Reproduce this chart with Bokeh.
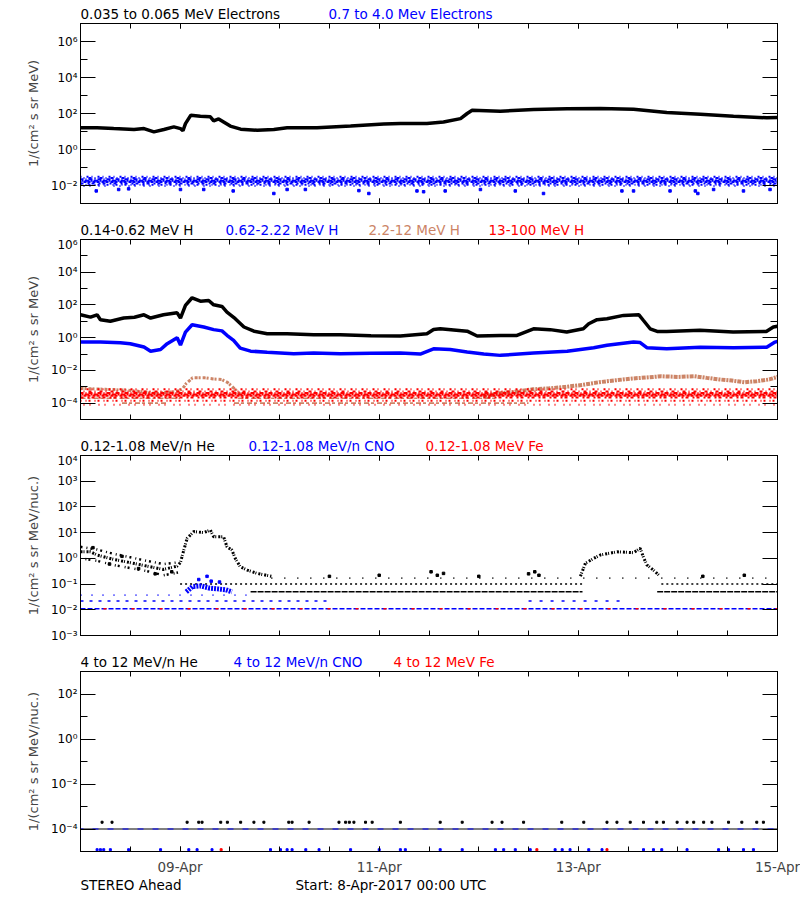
from bokeh.plotting import figure
from bokeh.layouts import column
from bokeh.models import (FixedTicker, CustomJSTickFormatter, LogAxis, LinearAxis,
                          Range1d)
from bokeh.core.properties import value
from bokeh.embed import file_html
from bokeh.resources import INLINE

# ------------------------------------------------------------------ data
# time axis: hours since 8-Apr-2017 00:00 UTC
X_START, X_END = 0, 168
X_TICKS = [24, 72, 120, 168]
X_TICK_LABELS = ["09-Apr", "11-Apr", "13-Apr", "15-Apr"]
X_MINOR = [0, 12, 24, 36, 48, 60, 72, 84, 96, 108, 120, 132, 144, 156, 168]

# panel 1 : electrons
P1_RANGE = (1e-3, 1e7)
P1_TICKS = [1e-2, 1e0, 1e2, 1e4, 1e6]
P1_LABELS = ["10⁻²", "10⁰", "10²", "10⁴", "10⁶"]
P1_MINOR = [1e-3, 1e-1, 1e1, 1e3, 1e5, 1e7]
E_LO_T = [0, 4, 8, 12.9, 15.3, 17.7, 20.1, 22.5, 24.1, 24.7, 25.3, 26.6, 28.9, 31.3,
          32.1, 33.3, 34.5, 36.1, 38.6, 42.6, 46.6, 49.8, 57.0, 65.1, 73.1, 77.1, 83.5,
          87.5, 91.6, 93.2, 94.4, 101.2, 109.2, 117.3, 125.3, 133.3, 141.3, 149.4,
          157.4, 165.4, 168]
E_LO_V = [16, 16, 14.5, 13, 14.5, 9.5, 13, 18, 14.5, 11, 27.5, 81, 71, 65, 39, 50, 34,
          20, 13.5, 11.7, 13, 16, 16, 20, 25.7, 27.5, 27.5, 34, 52, 100, 151, 135, 166,
          182, 190, 174, 115, 91, 71, 58, 60]
E_HI_LEVELS = [0.031, 0.026, 0.022, 0.0185, 0.0155, 0.013, 0.011, 0.0095]
E_HI_OUT_T = [3.8, 9.2, 11.6, 24.1, 29.7, 36.8, 46.6, 49.8, 54.2, 67.1, 69.5, 81.1, 82.7,
              87.9, 96.4, 104.8, 111.6, 130.5, 133.3, 142.1, 148.2, 148.8, 152.6, 159.8,
              166.2]
E_HI_OUT_V = [0.005, 0.006, 0.0065, 0.006, 0.006, 0.005, 0.0036, 0.006, 0.006, 0.0052,
              0.0036, 0.005, 0.0045, 0.005, 0.006, 0.005, 0.0036, 0.005, 0.005, 0.005,
              0.005, 0.0036, 0.006, 0.005, 0.006]

# panel 2 : protons
P2_RANGE = (1e-5, 1e6)
P2_TICKS = [1e-4, 1e-2, 1e0, 1e2, 1e4, 1e6]
P2_LABELS = ["10⁻⁴", "10⁻²", "10⁰", "10²", "10⁴", "10⁶"]
P2_MINOR = [1e-5, 1e-3, 1e-1, 1e1, 1e3, 1e5]
H1_T = [0, 2.4, 4, 4.8, 7.2, 10.4, 13, 15.3, 16.9, 20, 23.3, 24.1, 25.3, 26.9, 28.9,
        30.9, 32.1, 34.1, 35.3, 37.3, 39.4, 41.8, 45, 49.8, 56.2, 62.6, 70, 77.1, 83.5,
        85.1, 86.7, 93.2, 95.6, 101.2, 105.2, 107.2, 109.2, 113.2, 117.2, 121.2, 122.5,
        124.5, 126.9, 130.9, 134.6, 135.7, 137.3, 139.0, 141.3, 149.3, 157.3, 165.3,
        167.0, 168]
H1_V = [25, 18, 25, 12.6, 10.2, 15.8, 17.8, 25, 15.8, 25, 33, 15.8, 93, 275, 170, 186,
        102, 81, 36, 14.5, 4.5, 2.5, 1.74, 1.74, 1.5, 1.5, 1.32, 1.26, 1.74, 3.2, 3.5,
        2.5, 1.26, 1.38, 1.38, 2.2, 3.5, 3.1, 2.2, 3.5, 7.1, 12.6, 14.5, 23, 25, 11.2,
        3.5, 2.4, 2.4, 2.8, 2.2, 2.4, 4.5, 5.0]
H2_T = [0, 4.8, 9.6, 12, 15.3, 16.9, 19.3, 20.9, 23.3, 24.1, 25.3, 26.9, 29.7, 32.1,
        34.1, 35.3, 36.9, 38.5, 41, 45, 51.4, 56.2, 62.6, 70, 77.1, 81.9, 85.1, 89.1,
        93.2, 97.2, 101.2, 109.2, 117.3, 123.7, 126.9, 133.3, 134.9, 136.5, 141.3,
        149.4, 157.4, 165.4, 167.4, 168]
H2_V = [0.54, 0.54, 0.49, 0.43, 0.27, 0.15, 0.19, 0.43, 1.0, 0.35, 2.2, 6.2, 4.5, 3.1,
        2.6, 1.4, 0.69, 0.23, 0.15, 0.13, 0.105, 0.115, 0.105, 0.11, 0.115, 0.10, 0.21,
        0.19, 0.135, 0.10, 0.083, 0.115, 0.15, 0.245, 0.34, 0.54, 0.50, 0.245, 0.21,
        0.26, 0.24, 0.26, 0.54, 0.6]
H3A_T = [0, 6, 12, 18, 23, 24.5, 25.5, 27, 30, 32, 34, 35.5, 37, 38.5]
H3A_V = [8e-4, 7e-4, 6e-4, 4e-4, 5e-4, 7e-4, 1.6e-3, 3.5e-3, 3.5e-3, 3e-3, 2.8e-3,
         1.8e-3, 8e-4, 3.5e-4]
H3B_T = [97, 101, 105, 109, 113, 117, 121, 125, 129, 133, 137, 140, 144, 148, 151, 154,
         157, 160, 163, 166, 168]
H3B_V = [2.5e-4, 4e-4, 5e-4, 7e-4, 8e-4, 1e-3, 1.3e-3, 1.9e-3, 2.5e-3, 3.2e-3, 3.8e-3,
         4.4e-3, 4e-3, 4.4e-3, 3.5e-3, 2.8e-3, 2.4e-3, 1.9e-3, 2.2e-3, 2.8e-3, 4e-3]
H3_ROW_LEVEL = [2e-4, 2e-4, 1e-4, 1e-4]
H3_ROW_T0 = [0, 38, 10, 37]
H3_ROW_T1 = [24, 100, 21, 108]
H4_LEVELS = [7e-4, 5.2e-4, 4.2e-4, 3.4e-4, 2.8e-4, 2.2e-4, 1.4e-4, 8e-5]

# panel 3 : low-energy heavy ions
P3_RANGE = (1e-3, 1e4)
P3_TICKS = [1e-3, 1e-2, 1e-1, 1e0, 1e1, 1e2, 1e3, 1e4]
P3_LABELS = ["10⁻³", "10⁻²", "10⁻¹", "10⁰", "10¹", "10²", "10³", "10⁴"]
P3_MINOR = []
HE_T = [0, 2.4, 4, 8, 12, 16, 20, 23.3, 24.1, 24.9, 25.7, 27.3, 29.7, 31.3, 32.1, 34.5,
        35.3, 36.5, 37.3, 38.5, 40.2, 42.6, 44.2, 46]
HE_V = [1.8, 1.8, 1.35, 0.91, 0.68, 0.5, 0.37, 0.5, 0.7, 2.1, 6, 11, 10, 12.6, 6.9, 6.9,
        2.8, 2.1, 1.0, 0.47, 0.35, 0.26, 0.23, 0.2]
HE_UP_T = [0, 4, 8, 12, 16, 20, 23.5]
HE_UP_V = [2.8, 2.2, 1.5, 1.1, 0.8, 0.6, 0.7]
HE_LO_T = [0, 4, 8, 12, 16, 20, 23.5]
HE_LO_V = [1.0, 0.8, 0.55, 0.42, 0.32, 0.22, 0.28]
HE2_T = [120.5, 121.7, 123.7, 125.3, 129.3, 133.3, 134.9, 135.7, 136.5, 138.1, 139.7]
HE2_V = [0.2, 0.65, 1.0, 1.35, 1.8, 1.66, 2.45, 1.1, 0.56, 0.35, 0.2]
HE_ROW_LEVEL = [0.1, 0.1, 0.05, 0.05, 0.17]
HE_ROW_T0 = [24, 140, 41, 139, 46]
HE_ROW_T1 = [121, 168, 121, 168, 168]
HE_DOT_T = [3, 7, 10, 14, 18, 22, 84.5, 86, 87.5, 108, 109.5, 110.5, 60, 72, 96, 150, 160]
HE_DOT_V = [2.6, 0.6, 1.2, 0.4, 0.25, 0.3, 0.3, 0.22, 0.26, 0.25, 0.3, 0.22, 0.2, 0.22,
            0.2, 0.2, 0.22]
CNO_T = [25.5, 27, 29, 31, 33, 35, 36.5]
CNO_V = [0.05, 0.08, 0.085, 0.07, 0.065, 0.06, 0.05]
CNO_DOT_T = [28.5, 30.5, 31.5, 33.5]
CNO_DOT_V = [0.15, 0.2, 0.13, 0.12]
CNO_ROW_LEVEL = [0.011, 0.022, 0.022, 0.037]
CNO_ROW_T0 = [0, 0, 108, 0]
CNO_ROW_T1 = [168, 60, 130, 40]
FE_ROW_LEVEL = 0.011

# panel 4 : high-energy heavy ions
P4_RANGE = (1e-5, 1e3)
P4_TICKS = [1e-4, 1e-2, 1e0, 1e2]
P4_LABELS = ["10⁻⁴", "10⁻²", "10⁰", "10²"]
P4_MINOR = [1e-5, 1e-3, 1e-1, 1e1, 1e3]
HE4_ROW = 1e-4
HE4_DOT_T = [5.2, 7.6, 25.7, 28.5, 29.3, 33.8, 35.4, 38.6, 41.8, 44.2, 50.2, 51, 55.1,
             62.3, 63.9, 64.8, 65.9, 68.7, 70.3, 77.1, 86.7, 92, 99.2, 101.6, 106.8, 116,
             121.3, 126.9, 129.3, 132.5, 135.7, 138.9, 140.5, 143.8, 146.2, 147.8, 150.2,
             152.2, 156.2, 159.4, 163, 164.6]
HE4_DOT_V = 2e-4
CNO4_DOT_T = [4.0, 4.8, 5.6, 7.2, 11.6, 19.3, 26.1, 28.1, 31.7, 45.8, 48.2, 49.8, 51,
              54.3, 57.5, 65.1, 72, 77.1, 78.3, 86.7, 92, 100, 102, 104.8, 108.4, 114.4,
              116.1, 118, 122.5, 125.7, 135.7, 138.1, 140.1, 146.2, 153.8, 156.2, 159.8,
              162.2]
CNO4_DOT_V = 1.2e-5
FE4_DOT_T = [33.9, 110, 126.9]
FE4_DOT_V = 1.2e-5

# ------------------------------------------------------------------ style
FONT = "DejaVu Sans"
BLACK, BLUE, RED, TAN = "#000000", "#0000FF", "#FF0000", "#CC8466"
W = 800
FRAME_W, FRAME_H = 697, 180
LEFT = 80
RIGHT = W - LEFT - FRAME_W

TICK_JS = """
let best = -1, bd = 1e9;
for (let i = 0; i < tvals.length; i++) {
  const d = Math.abs(Math.log10(tvals[i]) - Math.log10(tick));
  if (d < bd) { bd = d; best = i; }
}
return bd < 0.01 ? tlabels[best] : "";
"""
XTICK_JS = """
for (let i = 0; i < tvals.length; i++) {
  if (Math.abs(tvals[i] - tick) < 1e-6) return tlabels[i];
}
return "";
"""


def strip(height, items, ymid):
    # text strip whose frame is aligned with the panels' frames (pixel coordinates)
    s = figure(frame_width=FRAME_W, frame_height=height, width=W, height=height,
               x_range=Range1d(LEFT, LEFT + FRAME_W), y_range=Range1d(height, 0),
               output_backend="svg", toolbar_location=None,
               min_border_left=LEFT, min_border_right=RIGHT,
               min_border_top=0, min_border_bottom=0,
               x_axis_location=None, y_axis_location=None)
    s.grid.visible = False
    s.outline_line_color = None
    for txt, col, x in items:
        s.text(x=[x], y=[ymid], text=[txt], text_color=col, text_font=value(FONT),
               text_font_size="13.5px", text_baseline="middle", text_align="left")
    return s


def make_panel(yrange, yticks, ylabels, yminor, ylabel, border_bottom, show_xlabels):
    top = 2
    p = figure(frame_width=FRAME_W, frame_height=FRAME_H,
               width=W, height=top + FRAME_H + border_bottom,
               x_range=Range1d(X_START, X_END), y_range=Range1d(*yrange),
               y_axis_type="log", output_backend="svg", toolbar_location=None,
               min_border_left=LEFT, min_border_right=RIGHT,
               min_border_top=top, min_border_bottom=border_bottom)
    p.grid.visible = False
    p.outline_line_color = BLACK
    p.outline_line_width = 1

    yt = FixedTicker(ticks=yticks, minor_ticks=yminor)
    xt = FixedTicker(ticks=X_TICKS, minor_ticks=X_MINOR)

    ya = p.yaxis[0]
    ya.ticker = yt
    ya.formatter = CustomJSTickFormatter(args=dict(tvals=yticks, tlabels=ylabels),
                                         code=TICK_JS)
    ya.major_label_text_font = FONT
    ya.major_label_text_font_size = "12px"
    ya.major_label_text_color = BLACK
    ya.major_label_standoff = 3
    ya.axis_label = ylabel
    ya.axis_label_text_font = FONT
    ya.axis_label_text_font_size = "13px"
    ya.axis_label_text_font_style = "normal"
    ya.axis_label_standoff = 7
    ya.major_tick_in, ya.major_tick_out = 15, 0
    ya.minor_tick_in, ya.minor_tick_out = 7, 0
    ya.axis_line_color = BLACK

    ra = LogAxis(ticker=yt, major_label_text_font_size="0px", major_label_standoff=0,
                 major_tick_in=15, major_tick_out=0, minor_tick_in=7, minor_tick_out=0,
                 axis_line_color=BLACK)
    ra.formatter = CustomJSTickFormatter(code="return '';")
    p.add_layout(ra, "right")

    xa = p.xaxis[0]
    xa.ticker = xt
    xa.major_tick_in, xa.major_tick_out = 5, 0
    xa.minor_tick_in, xa.minor_tick_out = 5, 0
    xa.axis_line_color = BLACK
    if show_xlabels:
        xa.formatter = CustomJSTickFormatter(
            args=dict(tvals=X_TICKS, tlabels=X_TICK_LABELS), code=XTICK_JS)
        xa.major_label_text_font = FONT
        xa.major_label_text_font_size = "13.5px"
        xa.major_label_standoff = 7
    else:
        xa.formatter = CustomJSTickFormatter(code="return '';")
        xa.major_label_text_font_size = "0px"
        xa.major_label_standoff = 0

    ta = LinearAxis(ticker=xt, major_label_text_font_size="0px", major_label_standoff=0,
                    major_tick_in=5, major_tick_out=0, minor_tick_in=5, minor_tick_out=0,
                    axis_line_color=BLACK)
    ta.formatter = CustomJSTickFormatter(code="return '';")
    p.add_layout(ta, "above")
    return p


def hrow(p, t0, t1, level, color, width, dash, offset=0):
    p.line([t0, t1], [level, level], line_color=color, line_width=width,
           line_dash=dash, line_dash_offset=offset)


UNIT1 = "1/(cm² s sr MeV)"
UNIT2 = "1/(cm² s sr MeV/nuc.)"
STRIP_H, TITLE_Y = 21, 13

# irregular dash patterns give the speckled look of the dense point clouds
SPECKLE = [("1 5 2 3", 0), ("3 3 1 4", 3), ("4 2 1 2", 1), ("5 1 2 1", 5),
           ("3 2 3 1", 2), ("2 2 3 4", 4), ("2 4 1 2", 1), ("1 8 1 5", 6)]

# ---------------- panel 1
s1 = strip(STRIP_H, [("0.035 to 0.065 MeV Electrons", BLACK, 80),
                     ("0.7 to 4.0 Mev Electrons", BLUE, 328)], TITLE_Y)
p1 = make_panel(P1_RANGE, P1_TICKS, P1_LABELS, P1_MINOR, UNIT1, 13, False)
p1.line(E_LO_T, E_LO_V, line_color=BLACK, line_width=3.5)
for lvl, (dash, off) in zip(E_HI_LEVELS, SPECKLE):
    hrow(p1, X_START, X_END, lvl, BLUE, 2, dash, off)
p1.scatter(E_HI_OUT_T, E_HI_OUT_V, marker="square", size=2.5, color=BLUE)

# ---------------- panel 2
s2 = strip(STRIP_H, [("0.14-0.62 MeV H", BLACK, 80), ("0.62-2.22 MeV H", BLUE, 225),
                     ("2.2-12 MeV H", TAN, 368), ("13-100 MeV H", RED, 488)], TITLE_Y)
p2 = make_panel(P2_RANGE, P2_TICKS, P2_LABELS, P2_MINOR, UNIT1, 13, False)
p2.line(H1_T, H1_V, line_color=BLACK, line_width=3.5)
p2.line(H2_T, H2_V, line_color=BLUE, line_width=3.5)
p2.line(H3A_T, H3A_V, line_color=TAN, line_width=3, line_dash="3 1 2 2")
p2.line(H3B_T, H3B_V, line_color=TAN, line_width=4, line_dash="4 1 2 1")
for lvl, t0, t1 in zip(H3_ROW_LEVEL, H3_ROW_T0, H3_ROW_T1):
    hrow(p2, t0, t1, lvl, TAN, 1.6, "5 2 3 3")
for lvl, (dash, off) in zip(H4_LEVELS, SPECKLE):
    hrow(p2, X_START, X_END, lvl, RED, 2, dash, off)

# ---------------- panel 3
s3 = strip(STRIP_H, [("0.12-1.08 MeV/n He", BLACK, 80),
                     ("0.12-1.08 MeV/n CNO", BLUE, 248),
                     ("0.12-1.08 MeV Fe", RED, 425)], TITLE_Y)
p3 = make_panel(P3_RANGE, P3_TICKS, P3_LABELS, P3_MINOR, UNIT2, 13, False)
p3.line(HE_T, HE_V, line_color=BLACK, line_width=3, line_dash="2 1 1 2")
p3.line(HE_UP_T, HE_UP_V, line_color=BLACK, line_width=2.5, line_dash="2 4 1 3")
p3.line(HE_LO_T, HE_LO_V, line_color=BLACK, line_width=2.5, line_dash="2 5 1 2",
        line_dash_offset=2)
p3.line(HE2_T, HE2_V, line_color=BLACK, line_width=3, line_dash="2 1 1 2")
he_styles = [("2 3", 0), ("2 3", 0), ("6 1", 0), ("6 1", 0), ("1 12", 0)]
for lvl, t0, t1, (dash, off) in zip(HE_ROW_LEVEL, HE_ROW_T0, HE_ROW_T1, he_styles):
    hrow(p3, t0, t1, lvl, BLACK, 1.6, dash, off)
p3.scatter(HE_DOT_T, HE_DOT_V, marker="square", size=2.5, color=BLACK)
cno_styles = [("5 2", 0), ("3 6", 0), ("3 8", 0), ("1 10", 0)]
for lvl, t0, t1, (dash, off) in zip(CNO_ROW_LEVEL, CNO_ROW_T0, CNO_ROW_T1, cno_styles):
    hrow(p3, t0, t1, lvl, BLUE, 1.6, dash, off)
hrow(p3, X_START, X_END, FE_ROW_LEVEL, RED, 1.6, "3 25", 5)
p3.line(CNO_T, CNO_V, line_color=BLUE, line_width=5, line_dash="2 1")
p3.scatter(CNO_DOT_T, CNO_DOT_V, marker="square", size=2.5, color=BLUE)

# ---------------- panel 4
s4 = strip(STRIP_H, [("4 to 12 MeV/n He", BLACK, 80), ("4 to 12 MeV/n CNO", BLUE, 233),
                     ("4 to 12 MeV Fe", RED, 393)], TITLE_Y)
p4 = make_panel(P4_RANGE, P4_TICKS, P4_LABELS, P4_MINOR, UNIT2, 22, True)
hrow(p4, X_START, X_END, HE4_ROW, BLACK, 1, "solid")
hrow(p4, X_START, X_END, HE4_ROW, BLUE, 1, "6 9", 3)
p4.scatter(HE4_DOT_T, [HE4_DOT_V] * len(HE4_DOT_T), marker="square", size=2, color=BLACK)
p4.scatter(CNO4_DOT_T, [CNO4_DOT_V] * len(CNO4_DOT_T), marker="square", size=2,
           color=BLUE)
p4.scatter(FE4_DOT_T, [FE4_DOT_V] * len(FE4_DOT_T), marker="square", size=2, color=RED)

s5 = strip(24, [("STEREO Ahead", BLACK, 80),
                ("Start:  8-Apr-2017 00:00 UTC", BLACK, 295)], 7)

layout = column(s1, p1, s2, p2, s3, p3, s4, p4, s5, spacing=0)
open("out.html", "w").write(file_html(layout, INLINE))
